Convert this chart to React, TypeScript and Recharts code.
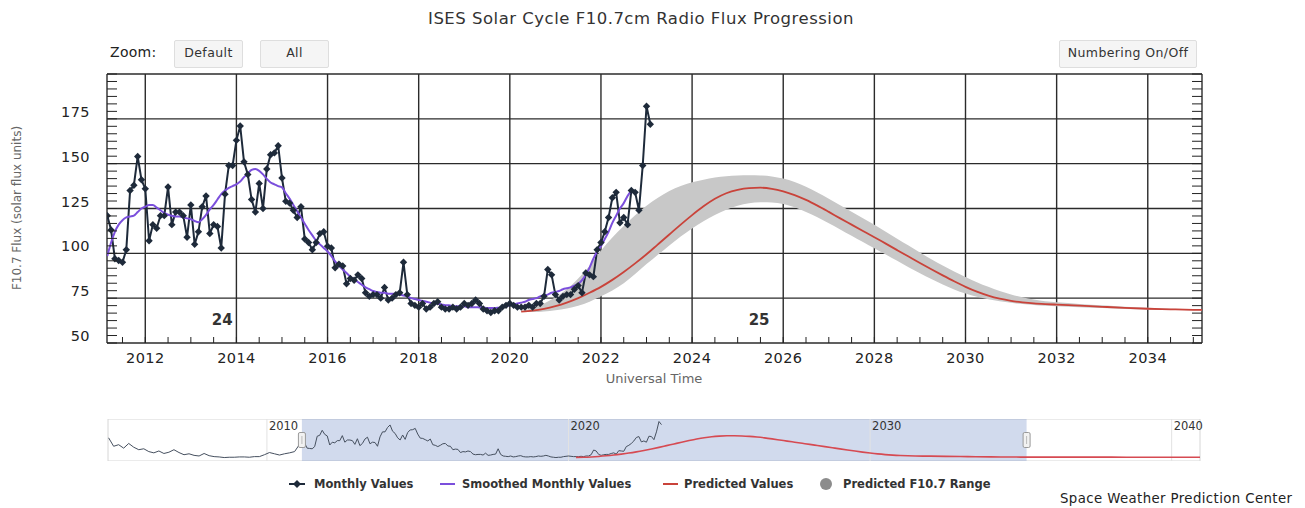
import React from 'react';
import {
  ComposedChart,
  Line,
  Area,
  XAxis,
  YAxis,
  CartesianGrid,
  ReferenceArea,
  ReferenceDot,
  ReferenceLine,
} from 'recharts';

const FONT = '"DejaVu Sans", Verdana, sans-serif';

// axes
const xDomain: [number, number] = [2011.16, 2035.19];
const yDomain: [number, number] = [50, 200];
const majorYears = [2012, 2014, 2016, 2018, 2020, 2022, 2024, 2026, 2028, 2030, 2032, 2034];
const fluxGrid = [75, 100, 125, 150, 175];
const fluxLabels = [50, 75, 100, 125, 150, 175];

// monthly observed values, starting March 2011
const monthlyStart = 2011 + 2 / 12;
const monthlyValues = [
  121, 113, 97, 96, 95, 102, 135, 138, 154, 141,
  136, 107, 116, 114, 121, 121, 137, 116, 123, 123, 121, 109,
  127, 105, 112, 126, 132, 111, 116, 115, 103, 133, 149, 149,
  163, 171, 151, 144, 130, 123, 139, 125, 147, 155, 156, 160,
  142, 129, 128, 124, 120, 126, 108, 106, 102, 106, 111, 112,
  104, 103, 92, 94, 93, 83, 86, 85, 88, 86, 78, 76,
  77, 77, 75, 81, 74, 75, 77, 78, 95, 77, 72, 71,
  70, 72, 69, 70, 72, 73, 70, 69, 69, 70, 69, 70,
  72, 71, 72, 74, 72, 69, 68, 67, 68, 68, 70, 71,
  72, 71, 70, 70, 70, 71, 70, 72, 72, 76, 91, 88,
  77, 74, 76, 77, 77, 80, 82, 78, 89, 88, 87, 102,
  106, 112, 120, 131, 134, 117, 120, 116, 135, 134, 124, 149,
  182, 172,
];

// smoothed monthly values, same start
const smoothedValues = [
  98.5, 106, 112, 116, 118.5, 120, 120.5, 121, 123, 125,
  126, 127, 127, 125.5, 124, 122.5, 121.5, 121, 120.5, 120.5, 120, 119.5,
  119, 118, 117.3, 119, 121.5, 124.5, 127, 130, 133, 135, 136.5, 137.5,
  138.5, 140, 142.5, 144.5, 146.5, 147, 146, 144, 141.5, 139.5, 138.5, 137.5,
  136.8, 133.5, 130.5, 127, 123.5, 120, 116.5, 113, 110, 107, 105, 103,
  101, 98.5, 95.5, 93, 91, 89, 87, 85.5, 84, 82.5, 81, 80,
  79, 78.5, 78, 78, 77.5, 77.5, 77.5, 77, 76.5, 76, 75, 74.5,
  74, 73.5, 73, 72.5, 72, 72, 71.5, 71, 71, 70.5, 70.5, 70.5,
  70.5, 70, 70, 70, 69.8, 69.7, 69.5, 69.5, 69.5, 69.7, 70, 70.5,
  71, 71.5, 72, 72.5, 73, 74, 74.5, 75, 76, 76.5, 77, 78,
  78.5, 79, 80, 80.5, 81, 82, 83, 85, 88, 92, 97, 101,
  104, 108, 112, 117, 121, 125, 128, 132, 135,
];

// predicted values and range
const predictedYears = [
  2020.25, 2020.5, 2020.75, 2021, 2021.25, 2021.5, 2021.75, 2022, 2022.25, 2022.5, 2022.75,
  2023, 2023.25, 2023.5, 2023.75, 2024, 2024.25, 2024.5, 2024.75, 2025, 2025.25, 2025.5,
  2025.75, 2026, 2026.25, 2026.5, 2026.75, 2027, 2027.25, 2027.5, 2027.75, 2028, 2028.25,
  2028.5, 2028.75, 2029, 2029.25, 2029.5, 2029.75, 2030, 2030.25, 2030.5, 2030.75, 2031,
  2031.25, 2031.5, 2031.75, 2032, 2032.5, 2033, 2033.5, 2034, 2034.5, 2035, 2035.5,
];
const predictedValues = [
  67.5, 68, 69, 70.5, 72.5, 75, 78, 81.3, 85.2, 89.6, 94.4,
  99.5, 105, 110.5, 116, 121.3, 126.2, 130.4, 133.5, 135.4, 136.4, 136.6,
  136, 134.6, 132.5, 129.8, 126.6, 123.1, 119.5, 116, 112.5, 109, 105.4,
  101.8, 98.2, 94.6, 91.1, 87.7, 84.4, 81.3, 78.6, 76.4, 74.7, 73.5,
  72.7, 72.1, 71.7, 71.4, 70.8, 70.2, 69.6, 69.1, 68.8, 68.5, 68.4,
];
const rangeLow = [
  67.3, 67.3, 67.6, 68.3, 69.3, 70.8, 73, 76, 79.3, 83.3, 88.5,
  94, 99.2, 104.4, 109.4, 113.9, 117.9, 121.4, 124.3, 126.5, 127.9, 128.5,
  128.4, 127.5, 125.7, 123.1, 120.1, 116.8, 113.3, 109.8, 106.3, 102.8, 99.3,
  95.8, 92.3, 88.9, 85.7, 82.6, 79.9, 77.6, 75.8, 74.4, 73.3, 72.4,
  71.7, 71.2, 70.8, 70.5, 70, 69.5, 69, 68.7, 68.5, 68.2, 68.1,
];
const rangeHigh = [
  67.8, 69.5, 72, 75.5, 80, 86, 93, 101.5, 108.8, 115.2, 121.2,
  126.5, 131, 134.8, 137.6, 139.6, 141.1, 142.3, 143, 143.4, 143.5, 143.4,
  142.9, 141.7, 139.8, 137.1, 133.9, 130.4, 126.8, 123.2, 119.6, 115.9, 112.1,
  108.2, 104.3, 100.5, 96.7, 93.2, 89.9, 86.8, 83.9, 81.3, 79, 77.1,
  75.5, 74.2, 73.3, 72.7, 71.8, 71, 70.2, 69.6, 69.1, 68.8, 68.7,
];

// cycle numbers
const cycleLabels = [
  { x: 2013.69, y: 63, text: '24' },
  { x: 2025.47, y: 63, text: '25' },
];

// navigator (full range)
const navDomain: [number, number] = [2004.73, 2040.94];
const navYears = [2010, 2020, 2030, 2040];
const navEarlyStart = 2004.75;
const navEarlyValues = [
  130, 103, 108, 97, 112, 100, 92, 95, 86, 82, 88, 80, 84, 92, 83, 76, 79, 74, 72, 80,
  73, 70, 69, 67, 68, 68, 69, 69, 68, 70, 70, 76, 83, 79, 75, 79, 82, 86,
];
const predictedTailYears = [2036.5, 2037.5, 2038.5, 2039.5, 2040.5, 2041];
const predictedTailValues = [68.3, 68.3, 68.2, 68.2, 68.2, 68.2];

const monthlyData = monthlyValues.map((v, i) => ({ x: monthlyStart + i / 12, v }));
const smoothedData = smoothedValues.map((v, i) => ({ x: monthlyStart + i / 12, v }));
const predictedData = predictedYears.map((x, i) => ({ x, v: predictedValues[i] }));
const rangeData = predictedYears.map((x, i) => ({ x, band: [rangeLow[i], rangeHigh[i]] }));
const navMonthly = [
  ...navEarlyValues.map((v, i) => ({ x: navEarlyStart + i / 6, v })),
  ...monthlyData,
];
const navPredicted = [
  ...predictedData,
  ...predictedTailYears.map((x, i) => ({ x, v: predictedTailValues[i] })),
];

const xTicks: number[] = [];
for (let t = 2011.5; t <= 2035; t += 0.5) xTicks.push(t);
const yTicks: number[] = [];
for (let i = 0; i <= 36; i++) yTicks.push(50 + (i * 25) / 6);

const PLOT_W = 1095;

function XTick(props: any) {
  const { x, y, payload } = props;
  const v = payload.value;
  const isMajor = majorYears.includes(Math.round(v * 2) / 2);
  return (
    <g>
      <line x1={x} x2={x} y1={y} y2={y - 6} stroke="#222" strokeWidth={1} />
      {isMajor && (
        <text x={x} y={y + 20} textAnchor="middle" fontSize={14.5} letterSpacing={0.4} fill="#222" fontFamily={FONT}>
          {v}
        </text>
      )}
    </g>
  );
}

function YTick(props: any) {
  const { x, y, payload } = props;
  const v = payload.value;
  const label = fluxLabels.find(l => Math.abs(l - v) < 0.01);
  return (
    <g>
      <line x1={x} x2={x + 10} y1={y} y2={y} stroke="#222" strokeWidth={1} />
      <line x1={x + PLOT_W - 10} x2={x + PLOT_W} y1={y} y2={y} stroke="#222" strokeWidth={1} />
      {label !== undefined && (
        <text x={x - 17} y={y - 2} textAnchor="end" fontSize={14.5} letterSpacing={0.4} fill="#222" fontFamily={FONT}>
          {label}
        </text>
      )}
    </g>
  );
}

const diamond = (p: any) => {
  if (p.cx == null || p.cy == null) return <g key={`d${p.index}`} />;
  const r = 3.7;
  return (
    <path
      key={`d${p.index}`}
      d={`M${p.cx},${p.cy - r}L${p.cx + r},${p.cy}L${p.cx},${p.cy + r}L${p.cx - r},${p.cy}Z`}
      fill="#1e2a3a"
    />
  );
};

const buttonStyle: React.CSSProperties = {
  position: 'absolute',
  top: 40,
  height: 28,
  boxSizing: 'border-box',
  background: '#f5f5f5',
  border: '1px solid #dedede',
  borderRadius: 2,
  fontSize: 12.5,
  letterSpacing: 0.4,
  color: '#333',
  lineHeight: '24px',
  textAlign: 'center',
};

const legendText: React.CSSProperties = {
  position: 'absolute',
  top: 476,
  fontSize: 11.5,
  fontWeight: 'bold',
  color: '#333',
  whiteSpace: 'nowrap',
  lineHeight: '16px',
};

export default function App() {
  return (
    <div
      style={{
        position: 'absolute',
        left: 0,
        top: 0,
        width: 1305,
        height: 508,
        background: '#fff',
        fontFamily: FONT,
        overflow: 'hidden',
      }}
    >
      <div
        style={{
          position: 'absolute',
          left: 0,
          top: 9,
          width: 1282,
          textAlign: 'center',
          fontSize: 16.5,
          letterSpacing: 0.5,
          color: '#333',
        }}
      >
        ISES Solar Cycle F10.7cm Radio Flux Progression
      </div>
      <div style={{ position: 'absolute', left: 110, top: 44, fontSize: 14, letterSpacing: 0.3, color: '#222' }}>Zoom:</div>
      <div style={{ ...buttonStyle, left: 174, width: 69 }}>Default</div>
      <div style={{ ...buttonStyle, left: 260, width: 69 }}>All</div>
      <div style={{ ...buttonStyle, left: 1059, width: 138 }}>Numbering On/Off</div>

      <div
        style={{
          position: 'absolute',
          left: 17,
          top: 208,
          transform: 'translate(-50%, -50%) rotate(-90deg)',
          fontSize: 12,
          color: '#666',
          whiteSpace: 'nowrap',
        }}
      >
        F10.7 Flux (solar flux units)
      </div>
      <div style={{ position: 'absolute', left: 0, width: 1308, top: 371, textAlign: 'center', fontSize: 13, color: '#666' }}>
        Universal Time
      </div>

      <div style={{ position: 'absolute', left: 0, top: 0 }}>
        <ComposedChart width={1305} height={400} margin={{ top: 74, right: 103, bottom: 27, left: 47 }}>
          <CartesianGrid
            stroke="#2b2b2b"
            strokeWidth={1.4}
            horizontalValues={[50, ...fluxGrid, 200]}
            verticalValues={[xDomain[0], ...majorYears, xDomain[1]]}
          />
          <XAxis
            type="number"
            dataKey="x"
            domain={xDomain}
            allowDataOverflow
            ticks={xTicks}
            interval={0}
            height={30}
            tickSize={0}
            tickMargin={0}
            tickLine={false}
            axisLine={false}
            tick={<XTick />}
          />
          <YAxis
            type="number"
            domain={yDomain}
            allowDataOverflow
            ticks={yTicks}
            interval={0}
            width={60}
            tickSize={0}
            tickMargin={0}
            tickLine={false}
            axisLine={false}
            tick={<YTick />}
          />
          <Area
            data={rangeData}
            dataKey="band"
            type="monotone"
            stroke="none"
            fill="#c8c8c8"
            fillOpacity={1}
            isAnimationActive={false}
          />
          <Line
            data={predictedData}
            dataKey="v"
            type="monotone"
            stroke="#c9433a"
            strokeWidth={1.8}
            dot={false}
            activeDot={false}
            isAnimationActive={false}
          />
          <Line
            data={monthlyData}
            dataKey="v"
            type="linear"
            stroke="#1e2a3a"
            strokeWidth={2}
            dot={diamond}
            activeDot={false}
            isAnimationActive={false}
          />
          <Line
            data={smoothedData}
            dataKey="v"
            type="monotone"
            stroke="#7b4fdc"
            strokeWidth={2}
            dot={false}
            activeDot={false}
            isAnimationActive={false}
          />
          {cycleLabels.map(c => (
            <ReferenceDot
              key={c.text}
              x={c.x}
              y={c.y}
              r={0}
              shape={(p: any) => (
                <text x={p.cx} y={p.cy + 5} textAnchor="middle" fontSize={15} fontWeight="bold" fill="#333" fontFamily={FONT}>
                  {c.text}
                </text>
              )}
            />
          ))}
        </ComposedChart>
      </div>

      <div style={{ position: 'absolute', left: 0, top: 419 }}>
        <ComposedChart width={1305} height={42} margin={{ top: 0, right: 105, bottom: 0, left: 108 }}>
          <XAxis type="number" dataKey="x" domain={navDomain} allowDataOverflow hide />
          <YAxis type="number" domain={[56, 190]} allowDataOverflow hide />
          <ReferenceArea x1={navDomain[0]} x2={navDomain[1]} y1={56} y2={190} fill="#ffffff" stroke="#d6d6d6" strokeWidth={1} />
          {navYears.map(yr => (
            <ReferenceLine key={yr} x={yr} stroke="#e2e2e2" strokeWidth={1} />
          ))}
          <Line
            data={navMonthly}
            dataKey="v"
            type="linear"
            stroke="#46505f"
            strokeWidth={1}
            dot={false}
            activeDot={false}
            isAnimationActive={false}
          />
          <Line
            data={navPredicted}
            dataKey="v"
            type="monotone"
            stroke="#d64a52"
            strokeWidth={1.6}
            dot={false}
            activeDot={false}
            isAnimationActive={false}
          />
          <ReferenceArea x1={xDomain[0]} x2={xDomain[1]} y1={56} y2={190} fill="#6685c2" fillOpacity={0.3} stroke="none" />
          {navYears.map(yr => (
            <ReferenceDot
              key={`l${yr}`}
              x={yr}
              y={190}
              r={0}
              shape={(p: any) => (
                <text x={p.cx + 2} y={p.cy + 11} fontSize={11.5} fill="#333" fontFamily={FONT}>
                  {yr}
                </text>
              )}
            />
          ))}
          {xDomain.map(edge => (
            <ReferenceDot
              key={`h${edge}`}
              x={edge}
              y={123}
              r={0}
              shape={(p: any) => (
                <g>
                  <rect x={p.cx - 3.5} y={p.cy - 7.5} width={7} height={15} rx={1.5} fill="#f2f2f2" stroke="#999" strokeWidth={1} />
                  <line x1={p.cx} x2={p.cx} y1={p.cy - 4} y2={p.cy + 4} stroke="#bbb" strokeWidth={1} />
                </g>
              )}
            />
          ))}
        </ComposedChart>
      </div>

      <svg style={{ position: 'absolute', left: 0, top: 474 }} width={1000} height={20}>
        <line x1={289} x2={305} y1={10} y2={10} stroke="#1e2a3a" strokeWidth={2} />
        <path d="M297,6L301,10L297,14L293,10Z" fill="#1e2a3a" />
        <line x1={440} x2={455} y1={10} y2={10} stroke="#7b4fdc" strokeWidth={2} />
        <line x1={663} x2={678} y1={10} y2={10} stroke="#c9433a" strokeWidth={2} />
        <circle cx={826} cy={10} r={6} fill="#8c8c8c" />
      </svg>
      <div style={{ ...legendText, left: 314 }}>Monthly Values</div>
      <div style={{ ...legendText, left: 462 }}>Smoothed Monthly Values</div>
      <div style={{ ...legendText, left: 684 }}>Predicted Values</div>
      <div style={{ ...legendText, left: 843 }}>Predicted F10.7 Range</div>

      <div
        style={{
          position: 'absolute',
          left: 1060,
          top: 491,
          fontSize: 13.3,
          letterSpacing: 0.4,
          color: '#222',
          whiteSpace: 'nowrap',
        }}
      >
        Space Weather Prediction Center
      </div>
    </div>
  );
}
